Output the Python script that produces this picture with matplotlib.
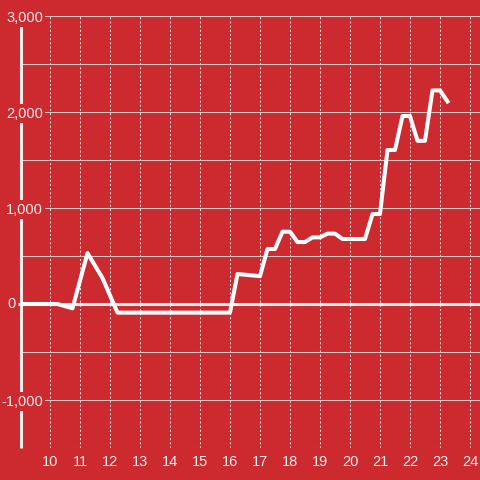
import matplotlib.pyplot as plt
from matplotlib.ticker import FixedLocator, FuncFormatter

# hour of day vs. cumulative value
hours = [9.0, 10.25, 10.75, 11.25, 11.75, 12.25, 16.0, 16.25, 16.5, 17.0,
         17.25, 17.5, 17.75, 18.0, 18.25, 18.5, 18.75, 19.0, 19.25, 19.5,
         19.75, 20.5, 20.75, 21.0, 21.25, 21.5, 21.75, 22.0, 22.25, 22.5,
         22.75, 23.0, 23.25]
values = [0, 0, -45, 530, 270, -90, -90, 312, 305, 290,
          573, 573, 753, 753, 645, 645, 694, 694, 733, 733,
          677, 677, 937, 937, 1604, 1604, 1958, 1958, 1700, 1700,
          2225, 2225, 2110]

x_ticks = list(range(10, 25))
y_labeled = [-1000, 1000, 2000, 3000]
y_grid = [-1500, -1000, -500, 500, 1000, 1500, 2000, 2500, 3000]

bg = '#cc2a2e'
plt.rcParams['font.family'] = ['Liberation Sans', 'DejaVu Sans']

fig = plt.figure(figsize=(4.8, 4.8), dpi=100, facecolor=bg)
ax = fig.add_axes([21 / 480, 1 - 448 / 480, 1 - 21 / 480, 432 / 480])
ax.set_facecolor(bg)
for s in ax.spines.values():
    s.set_visible(False)

ax.set_xlim(10 - 29 / 30, 24 + 10 / 30)
ax.set_ylim(-1500, 3000)

# grid
ax.set_xticks(x_ticks)
for xv in x_ticks:
    ax.axvline(xv, color='#dddddd', lw=0.75, ls=(0, (2, 2)), zorder=0.5)
for yv in y_grid:
    ax.axhline(yv, color='#c8c8c8', lw=0.75, zorder=0.5)

# y axis line and zero line (below tick label boxes)
ax.plot([ax.get_xlim()[0]] * 2, [-1500, 2920], color='#eeeeee', lw=2.2,
        clip_on=False, zorder=0.8, solid_capstyle='butt')
ax.plot([10 - 32 / 30, 24.4], [0, 0], color='#eeeeee', lw=2.2,
        clip_on=False, zorder=1.0, solid_capstyle='butt')

ax.plot(hours, values, color='white', lw=2.9, zorder=3)

ax.yaxis.set_major_locator(FixedLocator(y_labeled))
ax.yaxis.set_major_formatter(FuncFormatter(lambda v, p: f'{int(v):,}'))
ax.tick_params(axis='y', length=0, pad=-16, labelsize=10.5, labelcolor='#eeeeee')
ax.tick_params(axis='x', length=0, pad=5, labelsize=10.5, labelcolor='#eeeeee')
for lab in ax.get_yticklabels():
    lab.set_bbox(dict(facecolor=bg, edgecolor='none', pad=1.5))

ax.text(-9 / 459, 0, '0', transform=ax.get_yaxis_transform(), ha='center',
        va='center', fontsize=10.5, color='#eeeeee')

fig.savefig('out.png', dpi=100, facecolor=bg)
